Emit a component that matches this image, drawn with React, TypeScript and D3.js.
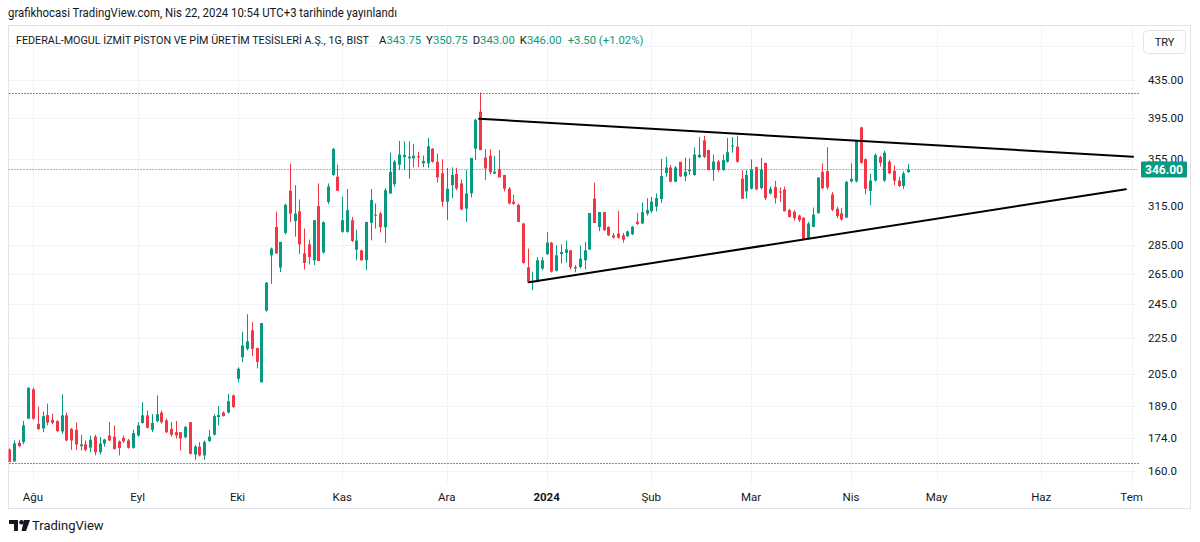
import React, { useEffect, useRef } from "react";
import * as d3 from "d3";

// daily bars, 25 Jul 2023 .. 22 Apr 2024, [open, high, low, close]
const candles: [number, number, number, number][] = [
  [169.1, 169.5, 163.7, 163.7], [164, 173, 163.8, 171.7], [172, 173.3, 170, 170.5], [172.3, 181.9, 171.3, 179.8],
  [182.9, 198.1, 182.9, 198], [197.2, 198, 182.4, 182.9], [180.5, 188.6, 177.8, 178.1], [178.4, 186.3, 176.7, 184.1],
  [184.6, 190.1, 179.8, 181.1], [182.4, 185.3, 180.3, 181], [181.8, 182.2, 176.7, 177.2], [177, 194.6, 176, 184.5],
  [184.5, 185.8, 172.7, 173], [178.2, 178.6, 168.9, 173], [177.8, 181.1, 168.9, 171.2], [170.5, 175.5, 168.6, 171.3],
  [171.3, 173, 168.3, 168.9], [169.9, 175.1, 167.9, 173.3], [174.7, 175.5, 166.5, 167.9], [167.9, 174.5, 166.9, 171.6],
  [171.6, 173.7, 170.3, 173.4], [175.2, 181.4, 172.7, 173], [174.7, 179.8, 169, 169.3], [172.6, 173, 166.5, 169.7],
  [174.1, 175.2, 171.9, 172.6], [173, 173.7, 169.4, 169.8], [169.8, 177.8, 169.4, 176.3], [175.2, 181.3, 174.7, 179.8],
  [180.9, 190.8, 180.6, 184.5], [184.5, 186.8, 178.4, 178.7], [177.8, 185, 176.7, 180.9], [181.8, 194.1, 181.3, 185],
  [185.8, 186.8, 180.6, 181.3], [182.1, 182.9, 176.3, 176.7], [178.2, 181.3, 174.7, 175.6], [176.7, 181.8, 173.9, 175.2],
  [176.7, 176.7, 168.6, 173.9], [174.4, 179.6, 174, 179.1], [181.3, 181.3, 166.9, 167.2], [166.9, 171.1, 164.6, 170.3],
  [170.3, 172.3, 166.1, 166.5], [166.5, 173, 164.6, 172.3], [172.8, 177.8, 172.3, 174.7], [175.6, 185, 175.2, 184.1],
  [183.7, 188.9, 179.8, 184.6], [185.8, 186.3, 184, 184.1], [185.8, 194.9, 185.3, 191.3], [194.1, 194.6, 188, 188.5],
  [202.6, 208.6, 200.7, 207.8], [214.1, 228.4, 211.4, 220.6], [218.7, 238.9, 217.8, 222.9], [229.3, 234.2, 214.7, 218.7],
  [219.2, 219.2, 208, 211.5], [200.7, 233.6, 200.7, 233.6], [241.1, 259.5, 240.5, 258.9], [277.8, 283.4, 258.2, 282.6],
  [298.7, 310.6, 278.7, 279.2], [269.2, 287.5, 266.2, 287.5], [294.2, 317, 293, 316.1], [327.6, 351.3, 302.5, 309.1],
  [303.3, 332.3, 291.3, 309.1], [310.9, 320.5, 278.7, 285.7], [279.2, 297.5, 267.9, 272.4], [285.7, 289.2, 271.4, 276.6],
  [274.3, 303.9, 271, 303.9], [315.1, 333.9, 273.8, 273.8], [279.8, 303, 279, 302.3], [318.5, 333.9, 316.9, 331.3],
  [341.2, 365.5, 340.5, 364.8], [339.7, 350.4, 327.6, 327.6], [295, 322.7, 294.3, 303.9], [295, 329.2, 294.3, 311.8],
  [303.9, 306.5, 287.5, 288.2], [281.8, 296.7, 274.3, 288.5], [281.3, 281.8, 274, 274.3], [274.3, 302.6, 267.4, 302.6],
  [301.9, 329.2, 288.7, 319.9], [307.5, 317.2, 297.5, 308.2], [309.1, 310.5, 294.6, 298.5], [298.5, 329.7, 286.8, 328.2],
  [325.4, 361.2, 325.4, 343.9], [333.3, 354.4, 331, 352.9], [350.2, 372.3, 345.5, 359.5], [357.1, 371.9, 345.5, 359.1],
  [356, 371.9, 338, 357.5], [356, 369.4, 348, 358.3], [358, 362, 348, 357], [351.5, 358.5, 348, 353.7],
  [351.5, 375.2, 347.5, 367.2], [364.9, 365.5, 352, 352.9], [352.9, 360.5, 334.5, 339.1], [342.7, 355.1, 314.6, 318.6],
  [318.6, 347.3, 303.9, 329.4], [332.4, 347.9, 321.4, 341.2], [342.1, 347.3, 328.2, 329.7], [333.9, 337.3, 311.8, 312.4],
  [313.1, 345.5, 302.6, 325.4], [325.4, 356.4, 322, 356.4], [364.9, 393.9, 354.4, 392.9], [401.1, 421.2, 363.6, 363.6],
  [356.6, 364.4, 336.7, 346.9], [358.4, 364.4, 341.9, 343.5], [342.4, 358.3, 341.9, 344.1], [346.1, 363.6, 339.1, 339.1],
  [341.2, 341.2, 327.1, 329.4], [329.4, 330.8, 316.5, 317.2], [318.6, 324.5, 316.1, 316.9], [316, 316.9, 302.6, 302.6],
  [301.3, 301.9, 271.9, 272.4], [269.4, 282.6, 258.8, 259.2], [259.2, 266.4, 254, 260.2], [259.9, 276.5, 259.2, 274.3],
  [268.5, 276.5, 267.2, 274.3], [278.7, 295, 278, 287], [287, 287.5, 265.8, 266.5], [267, 285, 266.5, 277.8],
  [278.7, 285.7, 272, 280.2], [279.5, 288.5, 272.6, 282], [281.4, 281.4, 268, 269.4], [268.7, 271, 266, 269.6],
  [269.6, 285, 268.7, 275.5], [274.3, 287.5, 268, 281.4], [282, 309.5, 281.7, 309.5], [321.2, 334.5, 301.8, 301.8],
  [298.5, 310.3, 295.5, 310.3], [310.3, 310.3, 295.7, 296.2], [298.7, 299.2, 291.8, 292.4], [292.4, 294.2, 290, 290.7],
  [293.7, 311.1, 290, 290.7], [292.4, 294.2, 286.9, 289.2], [291.7, 295.9, 291.2, 295.3], [293.2, 299.4, 292.5, 298.9],
  [302.6, 309.6, 300.2, 301], [301.4, 318, 300.8, 310.2], [309.1, 321.5, 307.5, 311.8], [311, 322.6, 309.5, 318.7],
  [314.6, 325.4, 310.8, 321.6], [320.8, 355.5, 317.7, 340.3], [342.9, 357.4, 339.6, 347.7], [347.7, 350, 334.8, 335.4],
  [335.4, 349, 334.8, 347.7], [352.8, 352.8, 339.4, 339.9], [340, 356.6, 336, 344], [344.5, 356, 341.2, 345.9],
  [341.2, 366.1, 340.5, 359.5], [357, 375.9, 356.3, 359.3], [372.8, 377, 356.3, 357.3], [363.6, 364, 345.2, 345.5],
  [345.5, 359.5, 336.1, 353.1], [353.1, 354.6, 344.1, 345.5], [345.5, 359.5, 344.9, 354.4], [352.9, 375.2, 352.1, 361.7],
  [366.9, 375.9, 361.2, 367.8], [366.9, 377.3, 352.1, 352.9], [338, 345.3, 321, 321], [327.1, 345.3, 321, 341.2],
  [329.4, 355, 328.8, 346.1], [348.1, 348.5, 328.2, 328.9], [330, 356.4, 328.8, 346], [351.9, 351.9, 320, 321.6],
  [325.4, 331.2, 324.6, 329.4], [330.8, 336.1, 317.2, 321.6], [327, 330.5, 318.5, 326.7], [328.8, 331.2, 310.9, 310.9],
  [311.8, 312.9, 306.3, 306.3], [310.5, 311.8, 303.5, 305.4], [307.5, 308.3, 302.5, 303.9], [305.9, 305.9, 289.2, 289.2],
  [289.9, 302.6, 289.2, 301.3], [298.8, 313.9, 298.5, 308.3], [309.5, 339, 309, 339], [343.9, 351.5, 328.9, 329.9],
  [344.5, 366.3, 328.8, 330.4], [324.6, 326.5, 311, 312.1], [312.9, 314.5, 305.5, 307.2], [309.3, 313.5, 303.5, 304.5],
  [305.9, 336.1, 305.9, 335.3], [335.6, 351.6, 334.7, 337.8], [335.6, 373, 334.7, 372], [385.3, 385.9, 351.3, 351.9],
  [355.2, 356, 324.6, 329.3], [327.6, 342.1, 315.8, 336.3], [336.3, 360.6, 335.6, 359], [357.3, 358.3, 348.6, 351.9],
  [336.3, 362.9, 335.2, 361.2], [353, 354.8, 341.9, 342.6], [344.8, 349.7, 332.3, 336.3], [336.3, 339.7, 330.8, 331.7],
  [331.7, 344.4, 329.2, 342.5], [343.75, 350.75, 343, 346],
];

// first bar of each month (bar index)
const monthTicks = [
  { label: "Ağu", bar: 5 }, { label: "Eyl", bar: 27 }, { label: "Eki", bar: 48 }, { label: "Kas", bar: 70 },
  { label: "Ara", bar: 92 }, { label: "2024", bar: 113, bold: true }, { label: "Şub", bar: 135 }, { label: "Mar", bar: 156 },
  { label: "Nis", bar: 177 }, { label: "May", bar: 195 }, { label: "Haz", bar: 217 }, { label: "Tem", bar: 236 },
];

const priceTicks = [475, 435, 395, 355, 315, 285, 265, 245, 225, 205, 189, 174, 160];
const priceLabels = ["", "435.00", "395.00", "355.00", "315.00", "285.00", "265.00", "245.0", "225.0", "205.0", "189.0", "174.0", "160.0"];

// user drawings
const levels = [421, 163.3];
const trendLines = [
  { b1: 98.8, p1: 394, b2: 236.3, p2: 357.5 },
  { b1: 109.3, p1: 259.3, b2: 234.8, p2: 329 },
];
const lastPrice = 346;

const title = "grafikhocasi TradingView.com, Nis 22, 2024 10:54 UTC+3 tarihinde yayınlandı";
const symbolName = "FEDERAL-MOGUL İZMİT PİSTON VE PİM ÜRETİM TESİSLERİ A.Ş., 1G, BIST";
const ohlcLegend = [
  ["A", "343.75"], ["Y", "350.75"], ["D", "343.00"], ["K", "346.00"],
];
const changeText = "+3.50 (+1.02%)";

const UP = "#089981";
const DOWN = "#f23645";
const TXT = "#131722";
const GRID = "#f0f3fa";
const FONT = "Roboto, 'Liberation Sans', sans-serif";

export default function App() {
  const ref = useRef<SVGSVGElement>(null);

  useEffect(() => {
    document.body.style.margin = "0";
    const svg = d3.select(ref.current);
    svg.selectAll("*").remove();

    const left = 8.5, right = 1137, top = 25.5, bottom = 483;

    const x = d3.scaleLinear().domain([5, 177]).range([33, 851]);
    const y = d3.scaleLog().domain([160, 435]).range([471, 80]);

    svg.append("rect").attr("width", 1200).attr("height", 542).attr("fill", "#fff");

    // title
    svg.append("text").text(title)
      .attr("x", 8).attr("y", 17).attr("font-size", 12).attr("fill", TXT)
      .attr("textLength", 389).attr("lengthAdjust", "spacingAndGlyphs");

    // frame
    svg.append("rect")
      .attr("x", 8.5).attr("y", 25.5).attr("width", 1182).attr("height", 483)
      .attr("fill", "none").attr("stroke", "#e0e3eb");

    const defs = svg.append("defs");
    defs.append("clipPath").attr("id", "plot")
      .append("rect").attr("x", left).attr("y", top).attr("width", right + 4 - left).attr("height", bottom - top);

    // grid
    const grid = svg.append("g");
    grid.selectAll("line.h").data(priceTicks).join("line")
      .attr("x1", left).attr("x2", right)
      .attr("y1", d => Math.round(y(d)) + 0.5).attr("y2", d => Math.round(y(d)) + 0.5)
      .attr("stroke", GRID);
    grid.selectAll("line.v").data(monthTicks).join("line")
      .attr("x1", d => Math.round(x(d.bar)) + 0.5).attr("x2", d => Math.round(x(d.bar)) + 0.5)
      .attr("y1", top).attr("y2", bottom)
      .attr("stroke", GRID);

    const plot = svg.append("g").attr("clip-path", "url(#plot)");

    // horizontal levels
    plot.selectAll("line.lvl").data(levels).join("line")
      .attr("x1", left + 1).attr("x2", right + 3)
      .attr("y1", d => Math.round(y(d)) + 0.5).attr("y2", d => Math.round(y(d)) + 0.5)
      .attr("stroke", "#131722").attr("stroke-width", 1).attr("stroke-dasharray", "1,2");

    // last price line
    plot.append("line")
      .attr("x1", left).attr("x2", right)
      .attr("y1", Math.round(y(lastPrice)) + 0.5).attr("y2", Math.round(y(lastPrice)) + 0.5)
      .attr("stroke", UP).attr("stroke-width", 1).attr("stroke-dasharray", "1,2");

    // candles
    const bars = plot.selectAll("g.c").data(candles).join("g");
    bars.append("line")
      .attr("x1", (d, i) => Math.round(x(i)) + 0.5).attr("x2", (d, i) => Math.round(x(i)) + 0.5)
      .attr("y1", d => y(d[1])).attr("y2", d => y(d[2]))
      .attr("stroke", d => (d[3] >= d[0] ? UP : DOWN)).attr("stroke-width", 1);
    bars.append("rect")
      .attr("x", (d, i) => Math.round(x(i)) - 1)
      .attr("y", d => y(Math.max(d[0], d[3])))
      .attr("width", 3)
      .attr("height", d => Math.max(1, y(Math.min(d[0], d[3])) - y(Math.max(d[0], d[3]))))
      .attr("fill", d => (d[3] >= d[0] ? UP : DOWN));

    // trend lines
    plot.selectAll("line.tl").data(trendLines).join("line")
      .attr("x1", d => x(d.b1)).attr("y1", d => y(d.p1))
      .attr("x2", d => x(d.b2)).attr("y2", d => y(d.p2))
      .attr("stroke", "#000").attr("stroke-width", 2).attr("stroke-linecap", "round");

    // legend
    svg.append("text").attr("x", 16).attr("y", 44).attr("font-size", 11)
      .attr("font-family", FONT).attr("fill", TXT)
      .attr("textLength", 353).attr("lengthAdjust", "spacingAndGlyphs")
      .text(symbolName);
    const lg2 = svg.append("text").attr("x", 379).attr("y", 44).attr("font-size", 11.3).attr("font-family", FONT);
    ohlcLegend.forEach(([k, v], i) => {
      lg2.append("tspan").text(k).attr("fill", TXT).attr("dx", i === 0 ? 0 : 5);
      lg2.append("tspan").text(v).attr("fill", UP);
    });
    lg2.append("tspan").text(changeText).attr("fill", UP).attr("dx", 6);

    // price axis
    svg.selectAll("text.pl").data(priceTicks.map((p, i) => ({ p, s: priceLabels[i] })).filter(d => d.s))
      .join("text")
      .attr("x", 1148).attr("y", d => y(d.p)).attr("dy", "0.35em")
      .attr("font-size", 11.5).attr("font-family", FONT).attr("fill", TXT)
      .text(d => d.s);

    // last price tag
    const ly = y(lastPrice);
    svg.append("rect").attr("x", 1141).attr("y", ly - 8).attr("width", 46).attr("height", 16)
      .attr("rx", 1).attr("fill", UP);
    svg.append("text").attr("x", 1164).attr("y", ly).attr("dy", "0.36em").attr("text-anchor", "middle")
      .attr("font-size", 12).attr("font-weight", "bold").attr("font-family", FONT).attr("fill", "#fff")
      .text(lastPrice.toFixed(2));

    // currency button
    svg.append("rect").attr("x", 1143.5).attr("y", 30.5).attr("width", 42).attr("height", 23).attr("rx", 4)
      .attr("fill", "#fff").attr("stroke", "#e0e3eb");
    svg.append("text").attr("x", 1164.5).attr("y", 42).attr("dy", "0.35em").attr("text-anchor", "middle")
      .attr("font-size", 11).attr("font-family", FONT).attr("fill", TXT).text("TRY");

    // time axis
    svg.selectAll("text.tl").data(monthTicks).join("text")
      .attr("x", d => x(d.bar)).attr("y", 497).attr("dy", "0.35em").attr("text-anchor", "middle")
      .attr("font-size", 11.5).attr("font-family", FONT).attr("fill", TXT)
      .attr("font-weight", d => (d.bold ? "bold" : "normal"))
      .text(d => d.label);

    // footer logo
    const logo = svg.append("g").attr("fill", TXT);
    logo.append("path").attr("d", "M9 520 H18 V531 H14 V524 H9 Z");
    logo.append("circle").attr("cx", 21.5).attr("cy", 522.3).attr("r", 2.3);
    logo.append("path").attr("d", "M24 520 H30 L26 531 H21.5 Z");
    svg.append("text").attr("x", 32).attr("y", 530).attr("font-size", 13).attr("font-family", FONT)
      .attr("fill", TXT).text("TradingView");
  }, []);

  return <svg ref={ref} width={1200} height={542} style={{ display: "block", fontFamily: FONT }} />;
}
